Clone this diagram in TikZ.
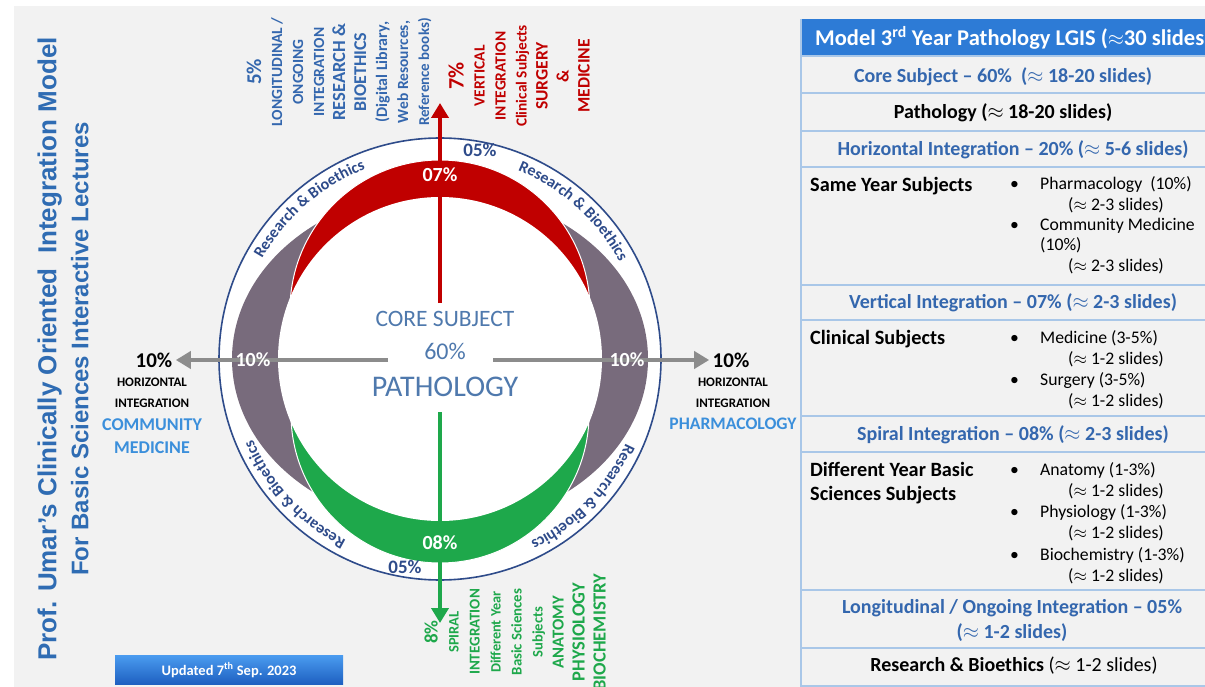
\documentclass[tikz,border=0pt]{standalone}
\usepackage{fontspec}
\setmainfont{Carlito}
\newfontfamily\titlefont{Liberation Sans}
\usetikzlibrary{arrows.meta,decorations.text,calc,positioning}
\definecolor{pagegray}{HTML}{F2F2F2}
\definecolor{ringnavy}{HTML}{2E4B8A}
\definecolor{lunered}{HTML}{C00000}
\definecolor{lunegreen}{HTML}{1EA84B}
\definecolor{lunegray}{HTML}{786B7C}
\definecolor{arrowgray}{HTML}{8C8C8C}
\definecolor{textblue}{HTML}{3467AE}
\definecolor{lightblue}{HTML}{3B8FDB}
\definecolor{headblue}{HTML}{2D7BD6}
\definecolor{tableline}{HTML}{A9C7E8}
\definecolor{titleblue}{HTML}{2F6CB3}
\definecolor{corefill}{HTML}{4F79AD}
\definecolor{btntop}{HTML}{4A9BEF}
\definecolor{btnbot}{HTML}{1D5FC0}
\newcommand\fs[1]{\fontsize{#1}{21}\selectfont}
\begin{document}
\begin{tikzpicture}[x=1pt,y=1pt,
  pct/.style={font=\bfseries\fontsize{20}{20}\selectfont,text=white,inner sep=1pt},
  ringpct/.style={font=\bfseries\fontsize{19}{19}\selectfont,text=ringnavy,inner sep=1pt},
  link/.style={line width=4.5pt,-{Triangle[width=17pt,length=15pt]}},
  vlabel/.style={rotate=90,inner sep=0pt,align=center,font=\bfseries\fs{15.5}},
  hlabel/.style={font=\bfseries\fontsize{13}{21}\selectfont,align=center,inner sep=0pt},
  rowtext/.style={font=\bfseries\fontsize{20}{25}\selectfont,text=textblue,inner sep=0pt},
  blocklabel/.style={font=\bfseries\fontsize{20.3}{24}\selectfont,anchor=base west,inner sep=0pt},
  bullets/.style={anchor=base west,inner sep=0pt}]
\useasboundingbox (0,0) rectangle (1205,-687);
\fill[white] (0,0) rectangle (1205,-687);
\fill[pagegray] (14,-6) rectangle (1205,-687);

\node[rotate=90,align=center,text=titleblue,font=\titlefont\bfseries\fontsize{26}{32}\selectfont] (title) at (63,-349)
  {Prof. Umar’s Clinically Oriented\ \ Integration Model\\{\fontsize{24}{32}\selectfont For Basic Sciences Interactive Lectures}};
\node[top color=btntop,bottom color=btnbot,minimum width=228pt,minimum height=29pt,text=white,
  font=\bfseries\fontsize{14.5}{16}\selectfont] (updated) at (229,-670) {Updated 7\textsuperscript{th} Sep. 2023};

\coordinate (O) at (440,-359);
\fill[white] (O) circle[radius=221];
\draw[ringnavy,line width=1.6pt] (O) circle[radius=221];
\fill[lunegray] (O) ellipse[x radius=208,y radius=168];
\path[fill=lunered,draw=white,line width=1pt] ($(O)+(0,49)$) circle[radius=150];
\path[fill=lunegreen,draw=white,line width=1pt] ($(O)+(0,-55)$) circle[radius=149];
\fill[white] (O) circle[radius=162];
\foreach \m in {131,48,223,316}
  \path[decorate,decoration={text along path,text align=center,
    text={|\bfseries\fontsize{16}{16}\selectfont\color{ringnavy}|Research {\&} Bioethics}}]
    ($(O)+(\m+32:204)$) arc[start angle=\m+32,end angle=\m-32,radius=204];

\node[align=center,text=corefill,font=\fontsize{23.5}{33}\selectfont] (core) at (445,-354)
  {CORE SUBJECT\\{\fontsize{24}{33}\selectfont 60\%}\\[4pt]{\fontsize{30}{33}\selectfont PATHOLOGY}};
\coordinate (hubN) at (440,-303);
\coordinate (hubS) at (440,-412);
\coordinate (hubW) at (388,-360);
\coordinate (hubE) at (493,-360);
\coordinate (redtip) at (440,-103);
\coordinate (greentip) at (440,-623);

\node[font=\bfseries\fontsize{21}{21}\selectfont] (pctl) at (154,-360) {10\%};
\node[hlabel] (horl) at (152,-393) {HORIZONTAL\\INTEGRATION};
\node[hlabel,text=lightblue,font=\bfseries\fontsize{18}{23}\selectfont] (coml) at (152,-436) {COMMUNITY\\MEDICINE};
\node[font=\bfseries\fontsize{21}{21}\selectfont] (pctr) at (731,-360) {10\%};
\node[hlabel] (horr) at (733,-393) {HORIZONTAL\\INTEGRATION};
\node[hlabel,text=lightblue,font=\bfseries\fontsize{17.6}{22}\selectfont] (pharm) at (733,-424) {PHARMACOLOGY};

\draw[link,lunered] (hubN) -- (redtip);
\draw[link,lunegreen] (hubS) -- (greentip);
\draw[link,arrowgray] (hubW) -- (pctl);
\draw[link,arrowgray] (hubE) -- (pctr);

\node[pct] (p07) at (440,-175) {07\%};
\node[pct] (p08) at (440,-543) {08\%};
\node[pct] (p10l) at (253,-360) {10\%};
\node[pct] (p10r) at (627,-360) {10\%};
\node[ringpct] (p05t) at (480,-150) {05\%};
\node[ringpct] (p05b) at (405,-567) {05\%};

\node[vlabel,text=textblue] (longi) at (339,-72)
  {{\fs{21}5\%}\\LONGITUDINAL /\\ONGOING\\INTEGRATION\\{\fs{18.5}RESEARCH \&}\\{\fs{18}BIOETHICS}\\
   {\fs{16}(Digital Library,}\\Web Resources,\\{\fs{15}Reference books)}};
\node[vlabel,text=lunered] (vert) at (519,-76)
  {{\fs{22}7\%}\\VERTICAL\\INTEGRATION\\{\fs{15.3}Clinical Subjects}\\{\fs{17.5}SURGERY}\\{\fs{17.5}\&}\\{\fs{17.5}MEDICINE}};
\node[vlabel,text=lunegreen] (spiral) at (515,-632)
  {{\fs{19}8\%}\\{\fs{14.5}SPIRAL}\\{\fs{15}INTEGRATION}\\{\fs{14.3}Different Year}\\{\fs{14.8}Basic Sciences}\\
   {\fs{14.6}Subjects}\\{\fs{16.7}ANATOMY}\\{\fs{18.5}PHYSIOLOGY}\\{\fs{18.5}BIOCHEMISTRY}};

\fill[headblue] (801,-19) rectangle (1205,-56);
\draw[tableline,line width=1.3pt] (801,-19) -- (801,-686) -- (1210,-686);
\foreach \y in {56,93,131,167,285,320,416,452,590,648}
  \draw[tableline,line width=1.3pt] (801,-\y) -- (1205,-\y);
\node[anchor=west,inner sep=0pt,text=white,font=\bfseries\fontsize{22.5}{24}\selectfont] (head) at (815,-38)
  {Model 3\textsuperscript{rd} Year Pathology LGIS ($\approx$30 slides};
\node[rowtext] (corerow) at (1003,-77) {Core Subject -- 60\%\ \ ($\approx$ 18-20 slides)};
\node[rowtext,text=black] (pathrow) at (1003,-113) {Pathology ($\approx$ 18-20 slides)};
\node[rowtext] (horrow) at (1013,-150) {Horizontal Integration -- 20\% ($\approx$ 5-6 slides)};
\node[blocklabel] (same) at (810,-192) {Same Year Subjects};
\node[bullets,font=\fontsize{17.7}{20.3}\selectfont] (samelist) at (1010,-190)
  {\begin{tabular}[t]{@{}p{30pt}@{}l@{}}\textbullet & Pharmacology\ \ (10\%)\\ & \hspace{28pt}($\approx$ 2-3 slides)\\
   \textbullet & Community Medicine\\ & (10\%)\\ & \hspace{28pt}($\approx$ 2-3 slides)\end{tabular}};
\node[rowtext] (vertrow) at (1013,-303) {Vertical Integration -- 07\% ($\approx$ 2-3 slides)};
\node[blocklabel] (clin) at (810,-344) {Clinical Subjects};
\node[bullets,font=\fontsize{17.7}{21.3}\selectfont] (clinlist) at (1010,-343)
  {\begin{tabular}[t]{@{}p{30pt}@{}l@{}}\textbullet & Medicine (3-5\%)\\ & \hspace{28pt}($\approx$ 1-2 slides)\\
   \textbullet & Surgery (3-5\%)\\ & \hspace{28pt}($\approx$ 1-2 slides)\end{tabular}};
\node[rowtext] (spirow) at (1013,-435) {Spiral Integration -- 08\% ($\approx$ 2-3 slides)};
\node[blocklabel] (diff) at (810,-476)
  {\begin{tabular}[t]{@{}l@{}}Different Year Basic\\Sciences Subjects\end{tabular}};
\node[bullets,font=\fontsize{17.7}{21.3}\selectfont] (difflist) at (1010,-475)
  {\begin{tabular}[t]{@{}p{30pt}@{}l@{}}\textbullet & Anatomy (1-3\%)\\ & \hspace{28pt}($\approx$ 1-2 slides)\\
   \textbullet & Physiology (1-3\%)\\ & \hspace{28pt}($\approx$ 1-2 slides)\\
   \textbullet & Biochemistry (1-3\%)\\ & \hspace{28pt}($\approx$ 1-2 slides)\end{tabular}};
\node[rowtext,align=center] (longrow) at (1012,-620) {Longitudinal / Ongoing Integration -- 05\%\\($\approx$ 1-2 slides)};
\node[font=\fontsize{20}{20}\selectfont,inner sep=0pt] (resrow) at (1014,-666) {\textbf{Research \& Bioethics} ($\approx$ 1-2 slides)};
\end{tikzpicture}
\end{document}
